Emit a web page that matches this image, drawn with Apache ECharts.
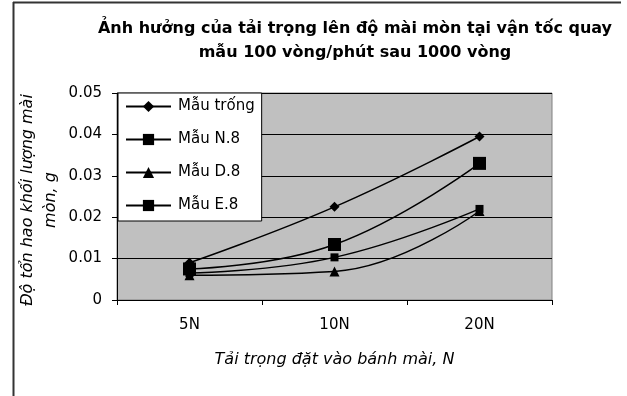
<!DOCTYPE html>
<html>
<head>
<meta charset="utf-8">
<script src="https://cdn.jsdelivr.net/npm/echarts@6/dist/echarts.min.js"></script>
<style>
  html, body { margin: 0; padding: 0; background: #fff; }
  #chart { width: 627px; height: 396px; }
</style>
</head>
<body>
<div id="chart"></div>
<script>
// Tải trọng (categories) and mass loss values (g) for each sample
const loads = ['5N', '10N', '20N'];
const mauTrong = [0.009, 0.0225, 0.0395];
const mauN8 = [0.0065, 0.0103, 0.022];
const mauD8 = [0.006, 0.0069, 0.0215];
const mauE8 = [0.0075, 0.0134, 0.033];
const yTicks = [0, 0.01, 0.02, 0.03, 0.04, 0.05];
const yTitleLines = ['Độ tổn hao khối lượng mài', 'mòn, g'];

const FONT = 'DejaVu Sans, Liberation Sans, sans-serif';
const chart = echarts.init(document.getElementById('chart'), null, { renderer: 'canvas' });

function lineSeries(name, data, symbol, size) {
  return {
    name: name,
    type: 'line',
    data: data,
    smooth: 0.45,
    symbol: symbol,
    symbolSize: size,
    showSymbol: true,
    itemStyle: { color: '#000' },
    lineStyle: { color: '#000', width: 1.5 },
    emphasis: { disabled: true },
    animation: false
  };
}

// rotated y-axis title, one text element per line
function yTitle(text, x) {
  return {
    type: 'text',
    x: x,
    y: 200,
    rotation: Math.PI / 2,
    style: {
      text: text,
      fontFamily: FONT,
      fontSize: 16,
      fontStyle: 'italic',
      fill: '#000',
      align: 'center',
      verticalAlign: 'middle'
    }
  };
}

chart.setOption({
  animation: false,
  title: {
    text: 'Ảnh hưởng của tải trọng lên độ mài mòn tại vận tốc quay\nmẫu 100 vòng/phút sau 1000 vòng',
    left: 350,
    top: 12,
    textAlign: 'center',
    textStyle: {
      fontFamily: FONT,
      fontSize: 16,
      fontWeight: 'bold',
      color: '#000',
      lineHeight: 24
    }
  },
  grid: {
    left: 117,
    top: 93,
    right: 75,
    bottom: 96,
    outerBoundsMode: 'none',
    containLabel: false,
    show: true,
    backgroundColor: '#c0c0c0',
    borderColor: '#808080',
    borderWidth: 1
  },
  legend: {
    orient: 'vertical',
    left: 118,
    top: 93,
    padding: [6, 7, 8, 7],
    itemGap: 18,
    itemWidth: 45,
    itemHeight: 14,
    backgroundColor: '#fff',
    borderColor: '#000',
    borderWidth: 1,
    textStyle: { fontFamily: FONT, fontSize: 15, color: '#000', padding: [0, 0, 0, 2] },
    data: ['Mẫu trống', 'Mẫu N.8', 'Mẫu D.8', 'Mẫu E.8']
  },
  xAxis: {
    type: 'category',
    data: loads,
    boundaryGap: true,
    name: 'Tải trọng đặt vào bánh mài, N',
    nameLocation: 'middle',
    nameGap: 52,
    nameTextStyle: { fontFamily: FONT, fontSize: 16, fontStyle: 'italic', color: '#000' },
    axisLine: { lineStyle: { color: '#000', width: 1 } },
    axisTick: { show: true, length: 5, lineStyle: { color: '#000' } },
    axisLabel: { fontFamily: FONT, fontSize: 15, color: '#000', margin: 18 },
    splitLine: { show: false }
  },
  yAxis: {
    type: 'value',
    min: 0,
    max: 0.05,
    interval: 0.01,
    axisLine: { show: true, lineStyle: { color: '#000', width: 1 } },
    axisTick: { show: true, length: 5, lineStyle: { color: '#000' } },
    axisLabel: {
      fontFamily: FONT, fontSize: 15, color: '#000', margin: 15,
      formatter: function (v) {
        const t = yTicks.find(function (k) { return Math.abs(k - v) < 1e-9; });
        return t === undefined ? '' : String(t);
      }
    },
    splitLine: { show: true, lineStyle: { color: '#000', width: 1 } }
  },
  series: [
    lineSeries('Mẫu trống', mauTrong, 'diamond', 10),
    lineSeries('Mẫu N.8', mauN8, 'rect', 8),
    lineSeries('Mẫu D.8', mauD8, 'triangle', 10),
    lineSeries('Mẫu E.8', mauE8, 'rect', 13)
  ],
  graphic: [
    { type: 'line', shape: { x1: 13.5, y1: 2, x2: 13.5, y2: 396 }, style: { stroke: '#333', lineWidth: 2 } },
    { type: 'line', shape: { x1: 13, y1: 2.5, x2: 621, y2: 2.5 }, style: { stroke: '#333', lineWidth: 2 } },
    yTitle(yTitleLines[0], 28),
    yTitle(yTitleLines[1], 51)
  ]
});
</script>
</body>
</html>
